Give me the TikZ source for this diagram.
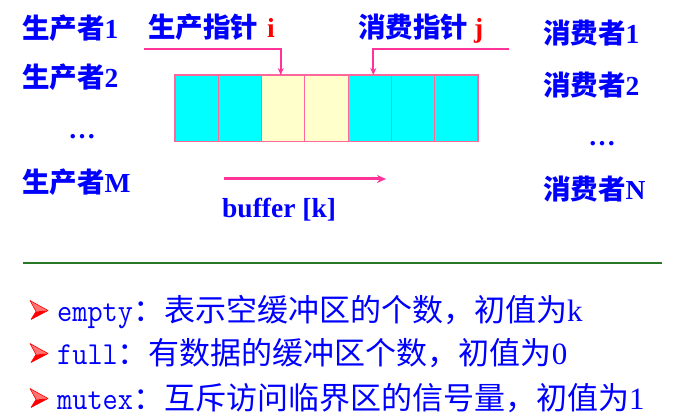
\documentclass[tikz,border=0pt]{standalone}
\usepackage{fontspec}
\usepackage{graphicx}
\setmainfont{Liberation Serif}
\newfontfamily\cjk{Noto Sans CJK SC}
\usetikzlibrary{arrows.meta,calc}
\definecolor{txtblue}{RGB}{0,0,255}
\definecolor{ptrpink}{RGB}{255,51,153}
\definecolor{bufborder}{RGB}{255,102,153}
\definecolor{cellcyan}{RGB}{0,255,255}
\definecolor{cellyellow}{RGB}{255,255,204}
\definecolor{sepgreen}{RGB}{40,120,40}
\newcommand\monotxt[1]{\scalebox{0.92}[1]{\fontsize{32}{34}\selectfont\ttfamily #1}}
\begin{document}
\begin{tikzpicture}[x=1pt,y=-1pt,
  toplbl/.style={text=txtblue, font=\fontsize{27.5}{30}\selectfont\bfseries, inner sep=0pt, anchor=base west},
  botlbl/.style={text=txtblue, font=\fontsize{31}{34}\selectfont, inner sep=0pt, anchor=base west},
  cell/.style={draw=bufborder, line width=1.2pt, minimum width=43.29pt, minimum height=66.7pt, inner sep=0pt, outer sep=0pt, anchor=north west},
  cyancell/.style={cell, fill=cellcyan},
  yelcell/.style={cell, fill=cellyellow},
  ptrarrow/.style={draw=ptrpink, line width=1.8pt, -{Stealth[length=7pt,width=6pt]}},
  bigarrow/.style={draw=ptrpink, line width=3pt, -{Stealth[length=9pt,width=8pt]}},
  bul/.pic={
    \fill[red!55!white] (0,-9) -- (18,1) -- (6,2) -- cycle;
    \fill[red] (6,2) -- (18,1) -- (1,10) -- cycle;
    \draw[red, line width=0.6pt, line join=round] (0,-9) -- (18,1) -- (1,10) -- (6,2) -- cycle;
  }
]
\useasboundingbox (0,0) rectangle (685,419);

% producers / consumers
\node[toplbl] (p1) at (22,38.5) {\cjk 生产者\rmfamily 1};
\node[toplbl] (p2) at (22,88) {\cjk 生产者\rmfamily 2};
\node[toplbl, anchor=center] (pdots) at (82,137) {…};
\node[toplbl] (pm) at (22,193) {\cjk 生产者\rmfamily M};
\node[toplbl] (c1) at (543,44) {\cjk 消费者\rmfamily 1};
\node[toplbl] (c2) at (543,96) {\cjk 消费者\rmfamily 2};
\node[toplbl, anchor=center] (cdots) at (602,144) {…};
\node[toplbl] (cn) at (543,200) {\cjk 消费者\rmfamily N};

% pointer labels
\node[toplbl] (pi) at (148,38) {{\cjk 生产指针}\hspace{9pt}{\color{red}i}};
\node[toplbl] (pj) at (358,38) {{\cjk 消费指针}\hspace{6pt}{\color{red}j}};

% buffer cells
\node[cyancell] (b1) at (175,75) {};
\node[cyancell] (b2) at (218.29,75) {};
\node[yelcell]  (b3) at (261.58,75) {};
\node[yelcell]  (b4) at (304.87,75) {};
\node[cyancell] (b5) at (348.16,75) {};
\node[cyancell] (b6) at (391.45,75) {};
\node[cyancell] (b7) at (434.74,75) {};

% pointer arrows
\coordinate (istart) at (144,49);
\coordinate (jstart) at (509,49);
\draw[ptrarrow] (istart) -| ($(b3.north)+(-2.5,0)$);
\draw[ptrarrow] (jstart) -| ($(b5.north)+(3.5,0)$);

% buffer direction arrow
\coordinate (ba) at (224,179);
\coordinate (bb) at (386,179);
\draw[bigarrow] (ba) -- (bb);
\node[toplbl] (bk) at (222,218) {buffer [k]};

% separator
\coordinate (sa) at (23,263);
\coordinate (sb) at (662,263);
\draw[sepgreen, line width=2.5pt] (sa) -- (sb);

% bullet lines
\pic at (30,309.5) {bul};
\pic at (30,352.5) {bul};
\pic at (30,397.5) {bul};
\node[botlbl] (l1) at (57,321.5) {\monotxt{empty}{\cjk ：表示空缓冲区的个数，初值为}k};
\node[botlbl] (l2) at (57,364.5) {\monotxt{full}{\cjk ：有数据的缓冲区个数，初值为}0};
\node[botlbl] (l3) at (57,409.5) {\monotxt{mutex}{\cjk ：互斥访问临界区的信号量，初值为}1};
\end{tikzpicture}
\end{document}
